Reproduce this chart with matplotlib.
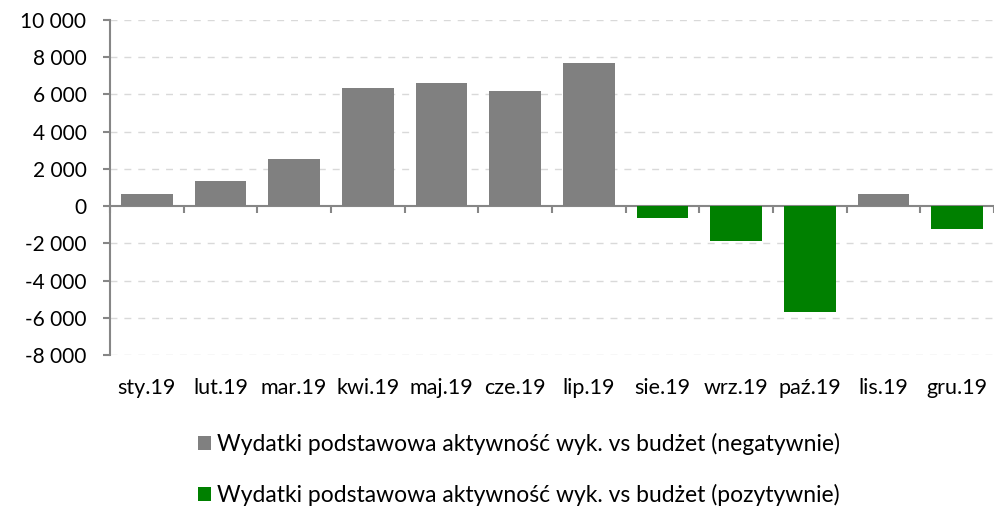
import matplotlib
matplotlib.use('Agg')
import matplotlib.pyplot as plt
from matplotlib.ticker import FuncFormatter
import numpy as np

months = ['sty.19', 'lut.19', 'mar.19', 'kwi.19', 'maj.19', 'cze.19',
          'lip.19', 'sie.19', 'wrz.19', 'paź.19', 'lis.19', 'gru.19']
negatywnie = [650, 1350, 2550, 6350, 6600, 6200, 7700, 0, 0, 0, 650, 0]
pozytywnie = [0, 0, 0, 0, 0, 0, 0, -650, -1900, -5700, 0, -1250]
label_neg = 'Wydatki podstawowa aktywność wyk. vs budżet (negatywnie)'
label_poz = 'Wydatki podstawowa aktywność wyk. vs budżet (pozytywnie)'

plt.rcParams['font.family'] = ['Lato', 'DejaVu Sans']

fig = plt.figure(figsize=(9.94, 5.09), dpi=100)
ax = fig.add_axes([110 / 994, 1 - 355 / 509, 1 - 110 / 994, (355 - 20) / 509])

x = np.arange(len(months))
ax.bar(x, negatywnie, width=0.7, color='#808080', label=label_neg, zorder=3)
ax.bar(x, pozytywnie, width=0.7, color='#008000', label=label_poz, zorder=3)

ax.set_xlim(-0.5, len(months) - 0.5)
ax.set_ylim(-8000, 10000)
ax.set_yticks(np.arange(-8000, 10001, 2000))
ax.yaxis.set_major_formatter(FuncFormatter(lambda v, p: f'{int(v):,}'.replace(',', ' ')))

# dashed grid, no line at zero (axis sits there)
for v in np.arange(-8000, 10001, 2000):
    if v != 0:
        ax.axhline(v, color='#d9d9d9', lw=1, ls=(0, (5, 5)), zorder=0)

for s in ['top', 'right']:
    ax.spines[s].set_visible(False)
ax.spines['left'].set_color('#868686')
ax.spines['left'].set_linewidth(1.5)
ax.spines['bottom'].set_position(('data', 0))
ax.spines['bottom'].set_color('#868686')
ax.spines['bottom'].set_linewidth(1.5)

ax.set_xticks(np.arange(len(months) + 1) - 0.5)
ax.set_xticklabels([])
ax.tick_params(axis='x', length=5, width=1.5, color='#868686', direction='out')
ax.tick_params(axis='y', length=5, width=1.5, color='#868686', labelsize=15, pad=12)

for i, m in enumerate(months):
    ax.text(i, -0.1, m, transform=ax.get_xaxis_transform(), ha='center', va='center',
            fontsize=15.5)

leg = fig.legend(loc='upper center', ncol=1, frameon=False, fontsize=16.5,
                 handlelength=0.55, handleheight=0.55, handletextpad=0.25,
                 labelspacing=1.25)
leg.set_bbox_to_anchor((0.522, 0.19), transform=fig.transFigure)

fig.savefig('out.png', dpi=100)
